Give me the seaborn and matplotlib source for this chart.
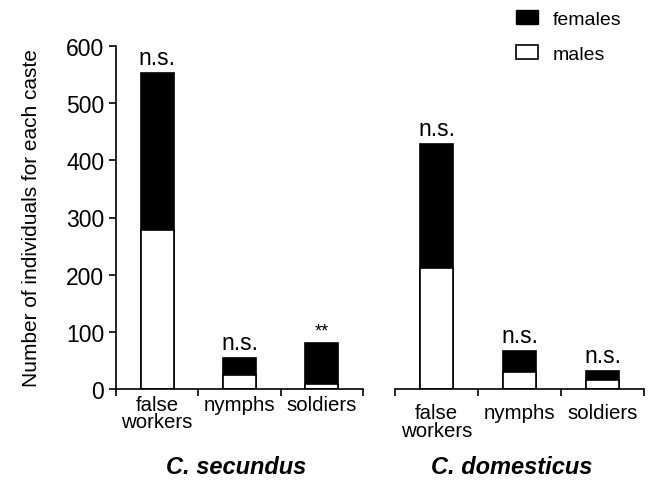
import matplotlib
matplotlib.use("Agg")
import matplotlib.pyplot as plt
from matplotlib.patches import Patch
import seaborn as sns
import pandas as pd

castes = ["false\nworkers", "nymphs", "soldiers"]
species = ["C. secundus", "C. domesticus"]
males_secundus = [278, 24, 8]
females_secundus = [274, 30, 72]
males_domesticus = [212, 30, 16]
females_domesticus = [216, 37, 15]
signif_secundus = ["n.s.", "n.s.", "**"]
signif_domesticus = ["n.s.", "n.s.", "n.s."]
yticks = [0, 100, 200, 300, 400, 500, 600]

sns.set_theme(style="white")
plt.rcParams['font.family'] = ['Liberation Sans', 'DejaVu Sans']
for k in ["text.color", "axes.labelcolor", "xtick.color", "ytick.color", "axes.edgecolor"]:
    plt.rcParams[k] = "black"

fig = plt.figure(figsize=(6.53, 4.81), dpi=100)
ax1 = fig.add_axes([116/653, 1-390/481, 247/653, 343/481])
ax2 = fig.add_axes([395/653, 1-390/481, 249/653, 343/481])

panels = [
    (ax1, males_secundus, females_secundus, signif_secundus, species[0], 4, 0.485),
    (ax2, males_domesticus, females_domesticus, signif_domesticus, species[1], 10, 0.47),
]

for ax, males, females, sig, title, pad, tx in panels:
    totals = [m + f for m, f in zip(males, females)]
    df = pd.DataFrame({"caste": castes, "total": totals, "males": males})
    sns.barplot(data=df, x="caste", y="total", color="black", edgecolor="black",
                linewidth=1.2, width=0.4, saturation=1, ax=ax)
    sns.barplot(data=df, x="caste", y="males", color="white", edgecolor="black",
                linewidth=1.2, width=0.4, saturation=1, ax=ax)
    ax.set_ylim(0, 600)
    ax.set_xlim(-0.5, 2.5)
    ax.set_xlabel("")
    ax.set_ylabel("")
    ax.set_xticks([-0.5, 0.5, 1.5, 2.5])
    ax.set_xticklabels([])
    ax.set_xticks([0, 1, 2], minor=True)
    ax.set_xticklabels(castes, minor=True, fontsize=14.7, linespacing=0.92)
    ax.tick_params(axis="x", which="major", direction="out", length=5, width=1.2,
                   color="black", bottom=True)
    ax.tick_params(axis="x", which="minor", length=0, pad=pad)
    for s in ["top", "right"]:
        ax.spines[s].set_visible(False)
    ax.spines["bottom"].set_color("black")
    ax.spines["bottom"].set_linewidth(1.2)
    for i, t in enumerate(totals):
        ax.annotate(sig[i], (i, t), xytext=(0, 3), textcoords="offset points",
                    ha="center", va="bottom", fontsize=16.5 if sig[i] != "**" else 13)
    ax.text(tx, -0.2245, title, transform=ax.transAxes, ha="center", va="center",
            fontsize=17, fontweight="bold", fontstyle="italic")

ax1.set_yticks(yticks)
ax1.set_yticklabels([str(v) for v in yticks], fontsize=16.5)
ax1.tick_params(axis="y", direction="out", length=5, width=1.2, color="black", left=True)
ax1.spines["left"].set_color("black")
ax1.spines["left"].set_linewidth(1.2)
ax1.set_ylabel("Number of individuals for each caste", fontsize=15, labelpad=18)

ax2.spines["left"].set_visible(False)
ax2.set_yticks([])

handles = [Patch(facecolor="black", edgecolor="black", label="females"),
           Patch(facecolor="white", edgecolor="black", linewidth=1.2, label="males")]
fig.legend(handles=handles, loc="upper right", bbox_to_anchor=(639/653, 1.013),
           frameon=False, fontsize=14, handlelength=1.15, handleheight=0.7,
           handletextpad=0.75, labelspacing=0.9)

fig.savefig("out.png", dpi=100)
